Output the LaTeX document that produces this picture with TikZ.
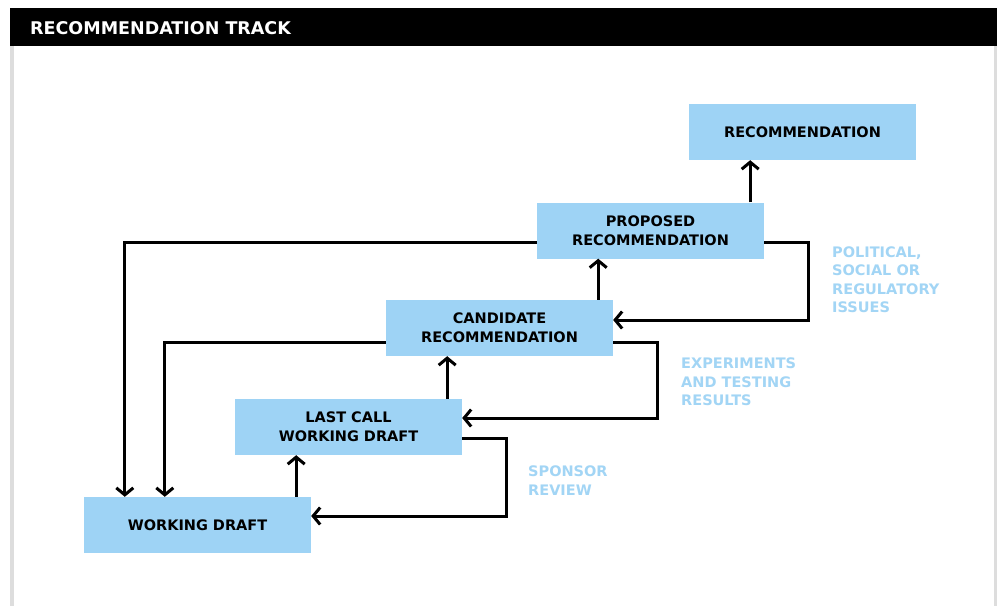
\documentclass[tikz,border=0pt]{standalone}
\usepackage{fontspec}
\setmainfont{DejaVu Sans}
\usetikzlibrary{arrows.meta}
\definecolor{boxblue}{HTML}{9ED3F5}
\definecolor{labblue}{HTML}{A2D5F5}
\definecolor{sidegray}{HTML}{DDDDDD}
\tikzset{
  stage/.style={fill=boxblue, minimum width=227pt, minimum height=56pt, inner sep=0pt,
    align=center, font=\bfseries\fontsize{14.5}{19}\selectfont, text=black},
  flow/.style={line width=3pt, -{Straight Barb[length=7pt,width=17pt,line width=3pt]}},
  note/.style={anchor=north west, inner sep=0pt, align=left, text=labblue,
    font=\bfseries\fontsize{14.5}{18.3}\selectfont},
}
\begin{document}
\begin{tikzpicture}[x=1pt,y=-1pt]
\useasboundingbox (0,0) rectangle (997,606);
\fill[white] (0,0) rectangle (997,606);
% frame
\fill[black] (10,8) rectangle (997,46);
\fill[sidegray] (10,46) rectangle (13.5,606);
\fill[sidegray] (993.5,46) rectangle (997,606);
\node[anchor=west, inner sep=0pt, text=white, font=\bfseries\fontsize{17.5}{20}\selectfont] (title) at (30,28) {RECOMMENDATION TRACK};
% stages
\node[stage] (REC) at (802.5,132) {RECOMMENDATION};
\node[stage] (PR) at (650.5,230.5) {PROPOSED\\RECOMMENDATION};
\node[stage] (CR) at (499.5,328) {CANDIDATE\\RECOMMENDATION};
\node[stage] (LC) at (348.5,427) {LAST CALL\\WORKING DRAFT};
\node[stage] (WD) at (197.5,525) {WORKING DRAFT};
% upward arrows
\draw[flow] ([xshift=-14pt]PR.north east) -- ([xshift=-14pt]PR.north east |- REC.south);
\draw[flow] ([xshift=-15pt]CR.north east) -- ([xshift=-15pt]CR.north east |- PR.south);
\draw[flow] ([xshift=-15pt]LC.north east) -- ([xshift=-15pt]LC.north east |- CR.south);
\draw[flow] ([xshift=-15pt]WD.north east) -- ([xshift=-15pt]WD.north east |- LC.south);
% right feedback loops
\draw[flow] ([yshift=-11.5pt]PR.east) -- ++(44,0) |- ([yshift=8pt]CR.east);
\draw[flow] ([yshift=-14pt]CR.east) -- ++(44,0) |- ([yshift=9pt]LC.east);
\draw[flow] ([yshift=-11pt]LC.east) -- ++(44,0) |- ([yshift=9pt]WD.east);
% left return lines
\draw[flow] ([yshift=-11.5pt]PR.west) -| ([xshift=41pt]WD.north west);
\draw[flow] ([yshift=-14pt]CR.west) -| ([xshift=81pt]WD.north west);
% notes
\node[note] (n1) at (832,246.5) {POLITICAL,\\SOCIAL OR\\REGULATORY\\ISSUES};
\node[note] (n2) at (681,358) {EXPERIMENTS\\AND TESTING\\RESULTS};
\node[note] (n3) at (528,466) {SPONSOR\\REVIEW};
\end{tikzpicture}
\end{document}
